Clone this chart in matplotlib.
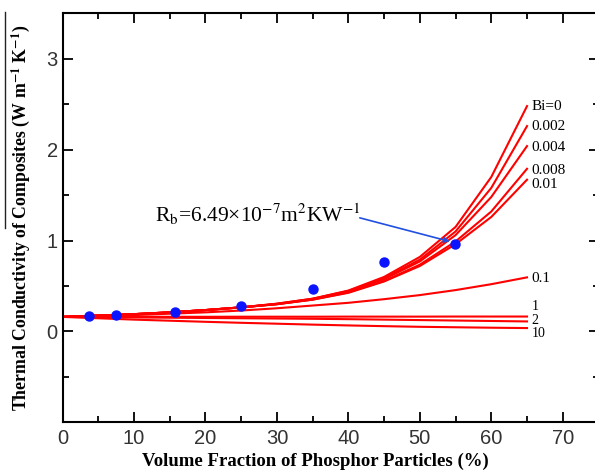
import matplotlib
matplotlib.use('Agg')
import matplotlib.pyplot as plt
from matplotlib.ticker import MultipleLocator, FixedLocator
from matplotlib.lines import Line2D

plt.rcParams['mathtext.fontset'] = 'stix'

# volume fraction (%) where the model curves were read
phi = [0, 5, 10, 15, 20, 25, 30, 35, 40, 45, 50, 55, 60, 65]

# model curves, one per Biot number
k_bi0 = [0.16, 0.175, 0.19, 0.21, 0.235, 0.265, 0.305, 0.36, 0.45, 0.60, 0.82, 1.15, 1.70, 2.48]
k_bi0002 = [0.16, 0.175, 0.19, 0.21, 0.235, 0.265, 0.305, 0.36, 0.445, 0.585, 0.79, 1.10, 1.58, 2.26]
k_bi0004 = [0.16, 0.175, 0.19, 0.21, 0.235, 0.265, 0.30, 0.355, 0.44, 0.575, 0.77, 1.06, 1.48, 2.04]
k_bi0008 = [0.16, 0.175, 0.19, 0.21, 0.235, 0.265, 0.30, 0.35, 0.43, 0.555, 0.735, 0.99, 1.32, 1.79]
k_bi001 = [0.16, 0.175, 0.19, 0.21, 0.235, 0.265, 0.30, 0.35, 0.425, 0.55, 0.72, 0.96, 1.26, 1.67]
k_bi01 = [0.16, 0.17, 0.18, 0.195, 0.21, 0.23, 0.255, 0.285, 0.315, 0.355, 0.40, 0.455, 0.52, 0.595]
k_bi1 = [0.16, 0.16, 0.161, 0.161, 0.161, 0.162, 0.162, 0.162, 0.163, 0.163, 0.163, 0.164, 0.164, 0.164]
k_bi2 = [0.16, 0.157, 0.154, 0.151, 0.148, 0.145, 0.142, 0.139, 0.135, 0.13, 0.125, 0.12, 0.115, 0.11]
k_bi10 = [0.16, 0.145, 0.13, 0.118, 0.106, 0.095, 0.085, 0.075, 0.066, 0.058, 0.051, 0.046, 0.041, 0.037]

curves = [k_bi0, k_bi0002, k_bi0004, k_bi0008, k_bi001, k_bi01, k_bi1, k_bi2, k_bi10]
curve_labels = ['Bi=0', '0.002', '0.004', '0.008', '0.01', '0.1', '1', '2', '10']
label_y = [2.48, 2.25, 2.02, 1.77, 1.62, 0.58, 0.27, 0.125, -0.02]

# measured data
exp_phi = [3.75, 7.5, 15.7, 25.0, 35.0, 45.0, 54.9]
exp_k = [0.175, 0.179, 0.219, 0.284, 0.463, 0.765, 0.958]

y_labelled = [0, 1, 2, 3]

fig = plt.figure(figsize=(5.95, 4.72), dpi=100)
ax = fig.add_axes([62.5 / 595, 49.7 / 472, 536 / 595, 408.9 / 472])

for k in curves:
    ax.plot(phi, k, color='red', lw=1.5, zorder=2)
for k, lab, ly in zip(curves, curve_labels, label_y):
    ax.text(65.6, ly, lab, family='Liberation Serif',
            fontsize=11 if len(lab) > 2 else 10, ha='left', va='center')

ax.plot(exp_phi, exp_k, 'o', color='#0a14ff', ms=6.5, zorder=3)

ax.text(13.0, 1.2, r'R$_\mathrm{b}$=6.49×10$^{\mathrm{-7}}$m$^{\mathrm{2}}$KW$^{\mathrm{-1}}$',
        family='Liberation Serif', fontsize=15.5, ha='left', va='baseline')
ax.annotate('', xy=(54.2, 0.99), xytext=(41.6, 1.25),
            arrowprops=dict(arrowstyle='-|>', color='#2050e0', lw=1.2,
                            mutation_scale=8, shrinkA=0, shrinkB=0))

ax.set_xlim(0, 75)
ax.set_ylim(-1, 3.5)
ax.xaxis.set_major_locator(MultipleLocator(10))
ax.xaxis.set_minor_locator(MultipleLocator(5))
ax.yaxis.set_major_locator(FixedLocator(y_labelled))
ax.yaxis.set_minor_locator(MultipleLocator(0.5))
ax.tick_params(which='both', direction='in', top=True, right=True, width=1.3,
               labelsize=14.5, colors='black')
ax.tick_params(which='major', length=7)
ax.tick_params(which='minor', length=4)
for t in ax.get_xticklabels() + ax.get_yticklabels():
    t.set_family('Liberation Sans')
    t.set_color('#333333')
ax.tick_params(axis='x', pad=5)
for s in ax.spines.values():
    s.set_linewidth(1.5)

ax.set_xlabel('Volume Fraction of Phosphor Particles (%)',
              family='Liberation Serif', fontweight='bold', fontsize=13.5)
ax.set_ylabel(r'Thermal Conductivity of Composites (W m$^{\mathbf{-1}}$ K$^{\mathbf{-1}}$)',
              family='Liberation Serif', fontweight='bold', fontsize=12.8)
ax.xaxis.set_label_coords(0.471, -0.075)
ax.yaxis.set_label_coords(-0.057, 0.50)

# stray rule at the left edge of the original figure
fig.add_artist(Line2D([5 / 595, 5 / 595], [1 - 12 / 472, 1 - 228 / 472],
                      color='#222222', lw=1))

fig.savefig('out.png', dpi=100)
